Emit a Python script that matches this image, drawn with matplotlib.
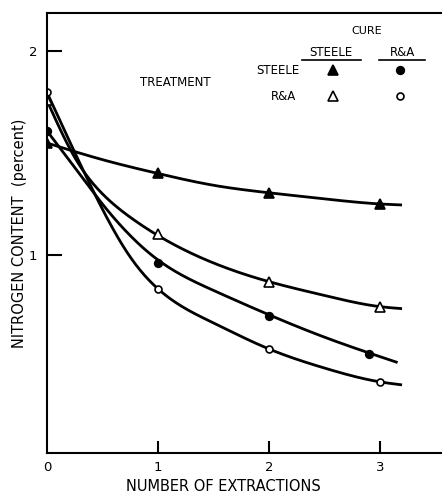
import numpy as np
import matplotlib
matplotlib.use("Agg")
import matplotlib.pyplot as plt

plt.rcParams["font.family"] = ["DejaVu Sans"]

# measured points: (treatment, cure)
x_ss = [0, 1, 2, 3]
y_ss = [1.55, 1.40, 1.305, 1.25]          # Steele / Steele
x_rs = [0, 1, 2, 3]
y_rs = [1.76, 1.10, 0.868, 0.745]         # R&A / Steele
x_sr = [0, 1, 2, 2.9]
y_sr = [1.61, 0.96, 0.70, 0.51]           # Steele / R&A
x_rr = [0, 1, 2, 3]
y_rr = [1.80, 0.833, 0.537, 0.375]        # R&A / R&A

# hand-drawn smooth curves, knots along each line
cx_ss = [0, 0.5, 1, 1.5, 2, 2.5, 3, 3.2]
cy_ss = [1.55, 1.468, 1.40, 1.342, 1.305, 1.275, 1.25, 1.245]
cx_rs = [0, 0.25, 0.5, 0.75, 1, 1.5, 2, 2.5, 3, 3.2]
cy_rs = [1.76, 1.48, 1.30, 1.185, 1.095, 0.96, 0.868, 0.80, 0.745, 0.735]
cx_sr = [0, 0.25, 0.5, 0.75, 1, 1.5, 2, 2.5, 3.16]
cy_sr = [1.61, 1.43, 1.25, 1.095, 0.975, 0.825, 0.705, 0.595, 0.47]
cx_rr = [0, 0.25, 0.5, 0.75, 1, 1.5, 2, 2.5, 3, 3.2]
cy_rr = [1.80, 1.505, 1.225, 0.99, 0.833, 0.665, 0.537, 0.443, 0.375, 0.36]

x_ticks = [0, 1, 2, 3]
x_ticklabels = ["0", "1", "2", "3"]
y_ticks = [1, 2]
y_ticklabels = ["1", "2"]


def natural_spline(xk, yk, xs):
    xk = np.asarray(xk, float)
    yk = np.asarray(yk, float)
    n = len(xk)
    h = np.diff(xk)
    A = np.zeros((n, n))
    r = np.zeros(n)
    A[0, 0] = A[-1, -1] = 1.0
    for i in range(1, n - 1):
        A[i, i - 1] = h[i - 1]
        A[i, i] = 2 * (h[i - 1] + h[i])
        A[i, i + 1] = h[i]
        r[i] = 6 * ((yk[i + 1] - yk[i]) / h[i] - (yk[i] - yk[i - 1]) / h[i - 1])
    M = np.linalg.solve(A, r)
    i = np.clip(np.searchsorted(xk, xs) - 1, 0, n - 2)
    a = xk[i + 1] - xs
    b = xs - xk[i]
    hi = h[i]
    return (M[i] * a**3 / (6 * hi) + M[i + 1] * b**3 / (6 * hi)
            + (yk[i] / hi - M[i] * hi / 6) * a
            + (yk[i + 1] / hi - M[i + 1] * hi / 6) * b)


fig = plt.figure(figsize=(4.42, 4.94), dpi=100)
ax = fig.add_axes([0.106, 0.083, 0.894, 0.891])

for cx, cy in [(cx_ss, cy_ss), (cx_rs, cy_rs), (cx_sr, cy_sr), (cx_rr, cy_rr)]:
    xs = np.linspace(cx[0], cx[-1], 400)
    ax.plot(xs, natural_spline(cx, cy, xs), color="black", lw=2.0,
            solid_capstyle="butt")

mk_ss = dict(marker="^", ms=6.5, mfc="black", mec="black", mew=1.2, ls="none")
mk_rs = dict(marker="^", ms=6.5, mfc="white", mec="black", mew=1.2, ls="none")
mk_sr = dict(marker="o", ms=5.5, mfc="black", mec="black", mew=1.2, ls="none")
mk_rr = dict(marker="o", ms=5.0, mfc="white", mec="black", mew=1.2, ls="none")

ax.plot(x_ss, y_ss, zorder=3, **mk_ss)
ax.plot(x_rs, y_rs, zorder=3, **mk_rs)
ax.plot(x_sr, y_sr, zorder=3, **mk_sr)
ax.plot(x_rr, y_rr, zorder=3, **mk_rr)

ax.set_xlim(0, 3.56)
ax.set_ylim(0.025, 2.19)

ax.spines["right"].set_visible(False)
for s in ["left", "top", "bottom"]:
    ax.spines[s].set_linewidth(1.5)
    ax.spines[s].set_zorder(4)

ax.set_xticks(x_ticks)
ax.set_xticklabels(x_ticklabels, fontsize=9.5)
ax.set_yticks(y_ticks)
ax.set_yticklabels(y_ticklabels, fontsize=9.5)
ax.tick_params(axis="x", direction="in", length=9, width=1.5, pad=6)
ax.tick_params(axis="y", direction="in", length=11, width=1.5, pad=7)
ax.xaxis.get_major_ticks()[0].tick1line.set_visible(False)

ax.set_xlabel("NUMBER OF EXTRACTIONS", fontsize=10.5)
ax.xaxis.set_label_coords(0.446, -0.058)
ax.set_ylabel("NITROGEN CONTENT  (percent)", fontsize=10.5)
ax.yaxis.set_label_coords(-0.05, 0.5)

# key: treatment rows, cure columns
col_x = [2.58, 3.18]
row_y = [1.908, 1.78]
ax.text(2.88, 2.10, "CURE", ha="center", va="center", fontsize=8)
ax.text(2.56, 1.995, "STEELE", ha="center", va="center", fontsize=8.5)
ax.text(3.2, 1.995, "R&A", ha="center", va="center", fontsize=8.5)
ax.plot([2.30, 2.83], [1.958, 1.958], color="black", lw=1.2)
ax.plot([2.99, 3.41], [1.958, 1.958], color="black", lw=1.2)
ax.text(1.16, 1.847, "TREATMENT", ha="center", va="center", fontsize=8.5)
ax.text(2.28, row_y[0], "STEELE", ha="right", va="center", fontsize=8.5)
ax.text(2.25, row_y[1], "R&A", ha="right", va="center", fontsize=8.5)
ax.plot([col_x[0]], [row_y[0]], **mk_ss)
ax.plot([col_x[1]], [row_y[0]], **mk_sr)
ax.plot([col_x[0]], [row_y[1]], **mk_rs)
ax.plot([col_x[1]], [row_y[1]], **mk_rr)

fig.savefig("out.png", dpi=100)
